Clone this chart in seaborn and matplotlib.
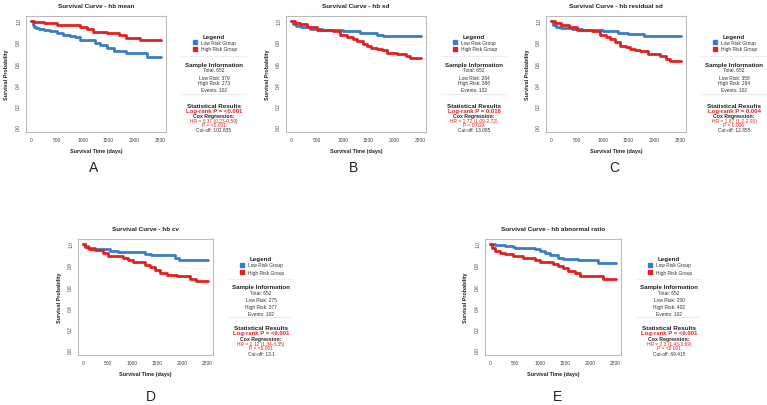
import numpy as np
import pandas as pd
import matplotlib
matplotlib.use("Agg")
import matplotlib.pyplot as plt
import seaborn as sns

# ---- data ----
titles = ["hb mean", "hb sd", "hb residual sd", "hb cv", "hb abnormal ratio"]
letters = ["A", "B", "C", "D", "E"]
total_n = 652
events_n = 102
low_n = [379, 264, 358, 275, 250]
high_n = [273, 388, 294, 377, 402]
logrank_p = ["<0.001", "0.016", "0.004", "<0.001", "<0.001"]
hr_text = ["0.37 (0.23-0.59)", "1.72 (1.09-2.72)", "1.87 (1.2-2.91)",
           "2.12 (1.34-3.35)", "2.3 (1.43-3.69)"]
cox_p = ["<0.001", "0.019", "0.006", "<0.001", "<0.001"]
cutoff = ["102.835", "13.085", "12.855", "13.1", "69.415"]

a_low_t = [0, 30, 60, 100, 150, 250, 370, 500, 620, 760, 850, 950, 1150, 1250, 1340, 1470, 1600, 1850, 2250, 2520]
a_low_s = [1.0, 0.96, 0.945, 0.93, 0.92, 0.91, 0.90, 0.88, 0.87, 0.86, 0.85, 0.82, 0.815, 0.79, 0.77, 0.74, 0.71, 0.695, 0.655, 0.655]
a_high_t = [0, 50, 240, 500, 950, 1080, 1210, 1470, 1700, 1850, 2110, 2520]
a_high_s = [1.0, 0.99, 0.98, 0.96, 0.945, 0.92, 0.89, 0.88, 0.87, 0.84, 0.815, 0.815]

b_low_t = [0, 40, 100, 200, 370, 600, 1010, 1340, 1660, 1790, 2520]
b_low_s = [1.0, 0.97, 0.95, 0.94, 0.92, 0.91, 0.90, 0.88, 0.87, 0.855, 0.855]
b_high_t = [0, 80, 180, 300, 500, 820, 950, 1080, 1200, 1280, 1400, 1470, 1560, 1660, 1760, 1860, 2050, 2240, 2310, 2520]
b_high_s = [1.0, 0.98, 0.965, 0.945, 0.91, 0.90, 0.87, 0.85, 0.83, 0.81, 0.78, 0.765, 0.745, 0.73, 0.72, 0.70, 0.69, 0.67, 0.65, 0.65]

c_low_t = [0, 40, 100, 200, 400, 600, 1000, 1300, 1500, 1800, 2520]
c_low_s = [1.0, 0.96, 0.94, 0.93, 0.92, 0.91, 0.90, 0.885, 0.875, 0.855, 0.855]
c_high_t = [0, 80, 200, 350, 500, 800, 950, 1060, 1150, 1250, 1340, 1450, 1530, 1620, 1730, 1890, 2110, 2240, 2300, 2520]
c_high_s = [1.0, 0.98, 0.96, 0.94, 0.91, 0.90, 0.87, 0.85, 0.83, 0.80, 0.765, 0.75, 0.735, 0.72, 0.71, 0.685, 0.67, 0.64, 0.62, 0.62]

d_low_t = [0, 40, 100, 250, 550, 700, 1000, 1250, 1380, 1850, 1930, 2520]
d_low_s = [1.0, 0.98, 0.96, 0.95, 0.93, 0.925, 0.92, 0.90, 0.89, 0.87, 0.845, 0.845]
d_high_t = [0, 50, 120, 250, 400, 500, 800, 900, 1000, 1250, 1350, 1450, 1550, 1700, 1900, 2150, 2280, 2520]
d_high_s = [1.0, 0.97, 0.955, 0.94, 0.91, 0.88, 0.87, 0.85, 0.83, 0.80, 0.78, 0.75, 0.72, 0.705, 0.695, 0.67, 0.645, 0.645]

e_low_t = [0, 100, 300, 450, 500, 900, 1000, 1100, 1200, 1350, 1450, 1750, 2150, 2520]
e_low_s = [1.0, 0.99, 0.98, 0.97, 0.96, 0.95, 0.93, 0.91, 0.89, 0.87, 0.86, 0.845, 0.82, 0.82]
e_high_t = [0, 30, 100, 200, 300, 450, 650, 900, 1000, 1250, 1350, 1450, 1550, 1700, 1800, 2250, 2520]
e_high_s = [1.0, 0.96, 0.93, 0.915, 0.90, 0.88, 0.865, 0.85, 0.83, 0.81, 0.79, 0.77, 0.745, 0.72, 0.70, 0.67, 0.67]

curves = [
    (a_low_t, a_low_s, a_high_t, a_high_s),
    (b_low_t, b_low_s, b_high_t, b_high_s),
    (c_low_t, c_low_s, c_high_t, c_high_s),
    (d_low_t, d_low_s, d_high_t, d_high_s),
    (e_low_t, e_low_s, e_high_t, e_high_s),
]

BLUE = "#3a7dc4"
RED = "#e3201f"
W, H = 767, 406

# axes boxes in pixels: left, top, right, bottom
boxes = [(26, 17, 166, 133), (286, 17, 426, 133), (546, 17, 686, 133),
         (78, 240, 213, 356), (485, 240, 621, 356)]

sns.set_style("white")
plt.rcParams["font.family"] = ["Liberation Sans", "DejaVu Sans"]

fig = plt.figure(figsize=(W / 100, H / 100), dpi=100)
fig.patch.set_facecolor("white")


def fx(x):
    return x / W


def fy(y):
    return 1 - y / H


def put(x, y, s, **kw):
    kw.setdefault("ha", "center")
    kw.setdefault("va", "center")
    fig.text(fx(x), fy(y), s, **kw)


for i, (l, t, r, b) in enumerate(boxes):
    ax = fig.add_axes([fx(l), fy(b), (r - l) / W, (b - t) / H])
    lt, ls, ht, hs = curves[i]
    df = pd.DataFrame({
        "time": list(lt) + list(ht),
        "surv": list(ls) + list(hs),
        "group": ["Low Risk Group"] * len(lt) + ["High Risk Group"] * len(ht),
    })
    sns.lineplot(data=df, x="time", y="surv", hue="group",
                 palette={"Low Risk Group": BLUE, "High Risk Group": RED},
                 estimator=None, sort=False, drawstyle="steps-post",
                 linewidth=2.0, legend=False, ax=ax)
    ax.set_xlim(-100, 2620)
    ax.set_ylim(-0.05, 1.045)
    ax.set_xticks([0, 500, 1000, 1500, 2000, 2500])
    ax.set_yticks([0.0, 0.2, 0.4, 0.6, 0.8, 1.0])
    ax.set_yticklabels(["0.0", "0.2", "0.4", "0.6", "0.8", "1.0"], rotation=90, va="center")
    ax.tick_params(axis="both", labelsize=3.5, length=2, width=0.4,
                   colors="#999999", labelcolor="#444444", pad=1.5)
    for sp in ax.spines.values():
        sp.set_color("#bbbbbb")
        sp.set_linewidth(0.8)
    ax.set_xlabel("")
    ax.set_ylabel("")

    cx = (l + r) / 2
    put(cx, t - 10, "Survival Curve - " + titles[i], fontsize=4.6, fontweight="bold", color="#222222")
    put(cx, b + 19, "Survival Time (days)", fontsize=3.9, fontweight="bold", color="#222222")
    put(l - 19, (t + b) / 2, "Survival Probability", fontsize=3.9, fontweight="bold",
        color="#222222", rotation=90)
    put(cx - 2 if i < 3 else cx + 5, b + 35 if i < 3 else b + 41, letters[i], fontsize=10, color="#222222")

    # side info block
    tx = r + 48
    put(tx, t + 20, "Legend", fontsize=4.5, fontweight="bold", color="#222222")
    fig.patches.append(plt.Rectangle((fx(tx - 21), fy(t + 28)), 4 / W, 4 / H,
                                     transform=fig.transFigure, color=BLUE))
    fig.patches.append(plt.Rectangle((fx(tx - 21), fy(t + 35)), 4 / W, 4 / H,
                                     transform=fig.transFigure, color=RED))
    put(tx - 13, t + 26, "Low Risk Group", fontsize=3.5, ha="left", color="#333333")
    put(tx - 13, t + 33, "High Risk Group", fontsize=3.5, ha="left", color="#333333")
    for yy in (t + 40, t + 78):
        fig.add_artist(plt.Line2D([fx(tx - 33), fx(tx + 32)], [fy(yy), fy(yy)],
                                  color="#e6e6e6", linewidth=0.5))
    put(tx, t + 48, "Sample Information", fontsize=4.5, fontweight="bold", color="#222222")
    put(tx, t + 54, f"Total: {total_n}", fontsize=3.5, color="#333333")
    put(tx, t + 61, f"Low Risk: {low_n[i]}", fontsize=3.5, color="#333333")
    put(tx, t + 67, f"High Risk: {high_n[i]}", fontsize=3.5, color="#333333")
    put(tx, t + 74, f"Events: {events_n}", fontsize=3.5, color="#333333")
    put(tx, t + 89, "Statistical Results", fontsize=4.5, fontweight="bold", color="#222222")
    put(tx, t + 94, f"Log-rank P = {logrank_p[i]}", fontsize=4.3, fontweight="bold", color=RED)
    put(tx, t + 100, "Cox Regression:", fontsize=3.7, fontweight="bold", color="#222222")
    put(tx, t + 105, f"HR = {hr_text[i]}", fontsize=3.5, color=RED)
    put(tx, t + 109, f"P = {cox_p[i]}", fontsize=3.5, color=RED)
    put(tx, t + 114, f"Cut-off: {cutoff[i]}", fontsize=3.5, color="#333333")

fig.savefig("out.png", dpi=100, facecolor="white")
